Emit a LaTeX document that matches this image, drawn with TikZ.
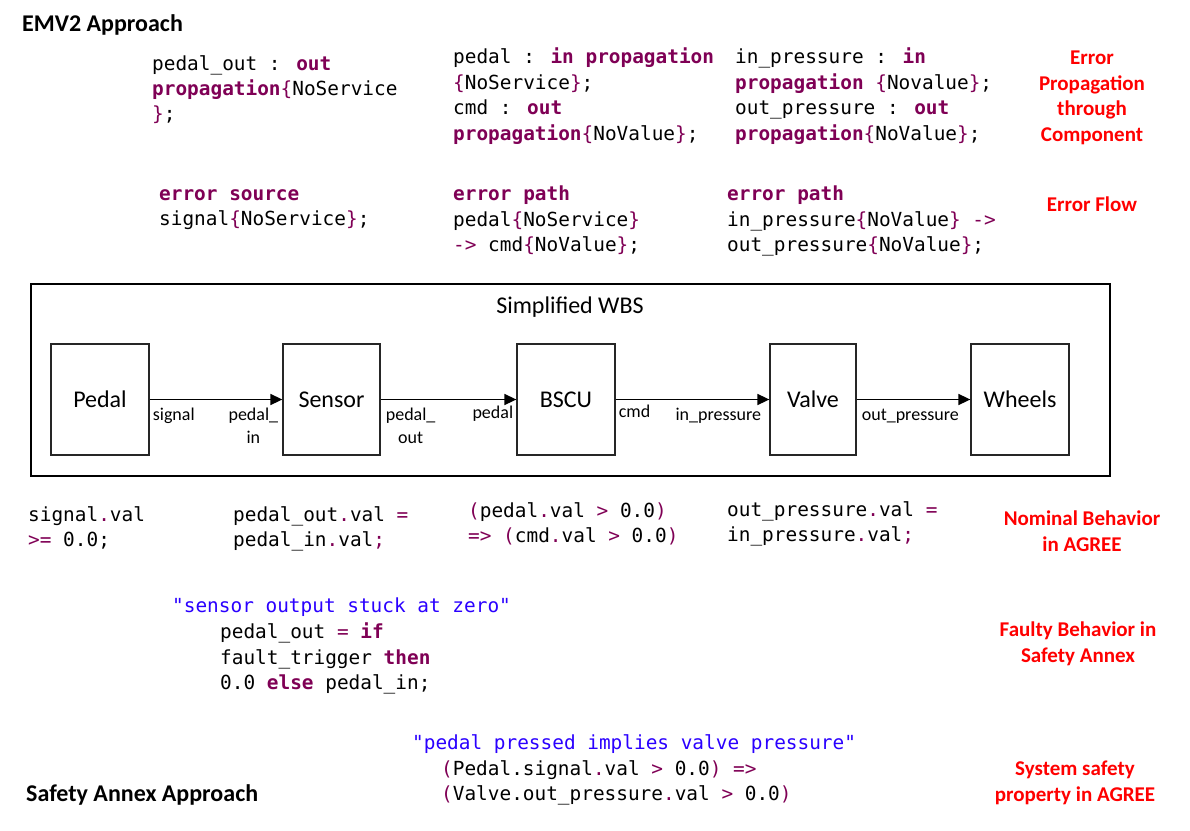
\documentclass[tikz,border=0pt]{standalone}
\usepackage{fontspec}
\setmainfont{Carlito}
\newfontfamily\codefont{DejaVu Sans Mono}
\usetikzlibrary{arrows.meta,positioning}

\definecolor{kwpurple}{HTML}{7F0055}
\definecolor{strblue}{HTML}{2A00FF}
\newcommand{\kw}[1]{\textcolor{kwpurple}{\bfseries #1}}
\newcommand{\op}[1]{\textcolor{kwpurple}{#1}}
\newcommand{\strg}[1]{\textcolor{strblue}{#1}}

\begin{document}
\begin{tikzpicture}[x=1pt,y=-1pt,
    flow/.style={line width=1.6pt, -{Triangle[length=12pt,width=11pt]}}]

        \useasboundingbox (0,0) rectangle (1190,830);

        \begin{scope}[every node/.style={anchor=west, inner sep=0pt, font=\bfseries\fontsize{24}{28}\selectfont}]
          \node (emv)   at (22,25)  {EMV2 Approach};
          \node (annex) at (26,795) {Safety Annex Approach};
        \end{scope}

        % EMV2 code
        \begin{scope}[every node/.style={anchor=north west, inner sep=0pt, align=left, font=\codefont\fontsize{19.4}{25.4}\selectfont}]
          \node (propA) at (152,55)  {pedal\_out : \kw{out}\\\kw{propagation}\op{\{}NoService\\\op{\}};};
          \node (propB) at (453,48)  {pedal : \kw{in propagation}\\\op{\{}NoService\op{\}};\\cmd : \kw{out}\\\kw{propagation}\op{\{}NoValue\op{\}};};
          \node (propC) at (735,48)  {in\_pressure : \kw{in}\\\kw{propagation} \op{\{}Novalue\op{\}};\\out\_pressure : \kw{out}\\\kw{propagation}\op{\{}NoValue\op{\}};};
          \node (srcD)  at (159,189) {\kw{error source}\\signal\op{\{}NoService\op{\}};};
          \node (pathE) at (453,186) {\kw{error path}\\pedal\op{\{}NoService\op{\}}\\\op{->} cmd\op{\{}NoValue\op{\}};};
          \node (pathF) at (727,186) {\kw{error path}\\in\_pressure\op{\{}NoValue\op{\}} \op{->}\\out\_pressure\op{\{}NoValue\op{\}};};

          % AGREE code
          \node (nomG)  at (28,506)  {signal\op{.}val\\\op{>=} 0.0;};
          \node (nomH)  at (233,506) {pedal\_out\op{.}val \op{=}\\pedal\_in\op{.}val\op{;}};
          \node (nomI)  at (468,502) {\op{(}pedal\op{.}val \op{>} 0.0\op{)}\\\op{=>} \op{(}cmd\op{.}val \op{>} 0.0\op{)}};
          \node (nomJ)  at (727,501) {out\_pressure\op{.}val \op{=}\\in\_pressure\op{.}val\op{;}};
          \node (faultK) at (172,598) {\strg{"sensor output stuck at zero"}};
          \node (faultL) at (220,623) {pedal\_out \op{=} \kw{if}\\fault\_trigger \kw{then}\\0.0 \kw{else} pedal\_in;};
          \node (safeM) at (412,734) {\strg{"pedal pressed implies valve pressure"}};
          \node (safeN) at (441,760) {\op{(}Pedal.signal\op{.}val \op{>} 0.0\op{)} \op{=>}\\\op{(}Valve.out\_pressure\op{.}val \op{>} 0.0\op{)}};
        \end{scope}

        \begin{scope}[every node/.style={text=red, inner sep=0pt, align=center, font=\bfseries\fontsize{21}{25.6}\selectfont}]
          \node (noteProp)  at (1092,98)  {Error\\Propagation\\through\\Component};
          \node (noteFlow)  at (1092,204) {Error Flow};
          \node (noteNom)   at (1082,531) {Nominal Behavior\\in AGREE};
          \node (noteFault) at (1078,644) {Faulty Behavior in\\Safety Annex};
          \node (noteSafe)  at (1075,783) {System safety\\property in AGREE};
        \end{scope}

        % simplified WBS
        \node[draw, line width=2.4pt, minimum width=1079pt, minimum height=192pt, inner sep=0pt] (wbs) at (570.5,380) {};
        \node[inner sep=0pt, font=\fontsize{24}{28}\selectfont] (wbsTitle) at (570,307) {Simplified WBS};

        \begin{scope}[every node/.style={draw=black!85, line width=1.3pt, minimum height=111pt, inner sep=0pt, font=\fontsize{24}{28}\selectfont}]
          \node[minimum width=98pt] (pedal)  at (100,399.5)   {Pedal};
          \node[minimum width=97pt] (sensor) at (331.5,399.5) {Sensor};
          \node[minimum width=98pt] (bscu)   at (566,399.5)   {BSCU};
          \node[minimum width=86pt] (valve)  at (813,399.5)   {Valve};
          \node[minimum width=98pt] (wheels) at (1020,399.5)  {Wheels};
        \end{scope}

        \path (pedal)  edge[flow] (sensor);
        \path (sensor) edge[flow] (bscu);
        \path (bscu)   edge[flow] (valve);
        \path (valve)  edge[flow] (wheels);

        \begin{scope}[every node/.style={inner sep=0pt, align=center, font=\fontsize{18}{23}\selectfont}]
          \node[anchor=west]       (sigPort)  at ([xshift=3pt,yshift=-16.5pt]pedal.east)  {signal};
          \node[anchor=north east] (inPort)   at ([xshift=-4pt,yshift=-8pt]sensor.west)   {pedal\_\\in};
          \node[anchor=north west] (outPort)  at ([xshift=5pt,yshift=-8pt]sensor.east)    {pedal\_\\out};
          \node[anchor=east]       (pedPort)  at ([xshift=-3pt,yshift=-14pt]bscu.west)    {pedal};
          \node[anchor=west]       (cmdPort)  at ([xshift=3pt,yshift=-12pt]bscu.east)     {cmd};
          \node[anchor=east]       (inpPort)  at ([xshift=-8pt,yshift=-16.5pt]valve.west) {in\_pressure};
          \node[anchor=west]       (outpPort) at ([xshift=5pt,yshift=-16.5pt]valve.east)  {out\_pressure};
        \end{scope}

      \end{tikzpicture}
\end{document}
